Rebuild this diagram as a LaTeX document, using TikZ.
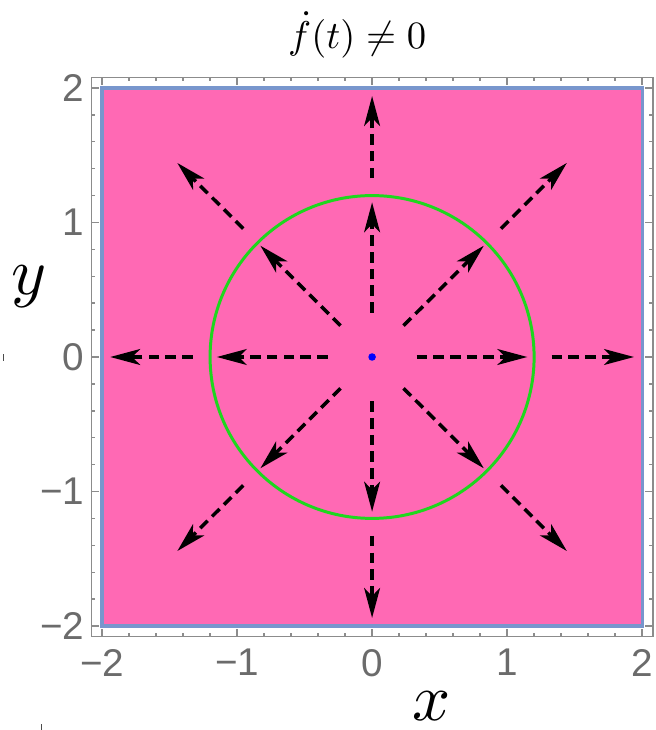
\documentclass[tikz,border=0pt]{standalone}
\usepackage{fontspec}
\newfontfamily\ticksfont{Liberation Sans}
\usepackage{tikz}
\usetikzlibrary{arrows.meta}

\definecolor{regionpink}{RGB}{255,105,180}
\definecolor{edgeblue}{RGB}{120,150,205}
\definecolor{circgreen}{RGB}{30,215,30}
\definecolor{tickgray}{RGB}{107,107,107}
\definecolor{framegray}{RGB}{140,140,140}

\begin{document}
\begin{tikzpicture}[
  x=2.7cm, y=2.69cm,
  ticklab/.style={font=\ticksfont\fontsize{22}{26}\selectfont, text=tickgray, inner sep=0pt},
  framestyle/.style={draw=framegray, line width=0.8pt},
  flowarrow/.style={-{Stealth[length=17pt, width=9pt, inset=4.5pt]}, line width=2pt,
                    dash pattern=on 6pt off 3.5pt},
]
\useasboundingbox (-2.756,-2.773) rectangle (2.096,2.654);

% Region
\fill[regionpink] (-2,-2) rectangle (2,2);
\draw[edgeblue, line width=1.8pt] (-2,-2) rectangle (2,2);

% Frame with ticks
\draw[framestyle] (-2.08,-2.08) rectangle (2.08,2.08);
\foreach \i in {-10,...,10} {
  \pgfmathsetmacro{\tpos}{\i/5}
  \pgfmathsetmacro{\ticklen}{ifthenelse(mod(\i,5)==0,0.055,0.03)}
  \draw[framestyle] (\tpos,-2.08) -- ++(0,\ticklen);
  \draw[framestyle] (\tpos,2.08) -- ++(0,-\ticklen);
  \draw[framestyle] (-2.08,\tpos) -- ++(\ticklen,0);
  \draw[framestyle] (2.08,\tpos) -- ++(-\ticklen,0);
}

% Tick labels
\foreach \v/\lab in {-2/−2, -1/−1, 0/0, 1/1, 2/2} {
  \node[ticklab, anchor=north] (xt\v) at (\v,-2.17) {\lab};
  \node[ticklab, anchor=east] (yt\v) at (-2.13,\v) {\lab};
}

% Circle and centre
\draw[circgreen, line width=1.7pt] (0,0) circle [radius=1.2];
\fill[blue] (0,0) circle [radius=0.028];

% Field arrows
\foreach \a in {0,90,180,270} {
  \draw[flowarrow] (\a:0.33) -- (\a:1.15);
  \draw[flowarrow] (\a:1.33) -- (\a:1.94);
}
\foreach \a in {45,135,225,315} {
  \draw[flowarrow] (\a:0.33) -- (\a:1.17);
  \draw[flowarrow] (\a:1.35) -- (\a:2.04);
}

% Title and axis labels
\node[scale=2.2] (title) at (-0.11,2.394) {$\dot{f}(t)\neq 0$};
\node[scale=3.8, inner sep=0pt] (xlab) at (0.444,-2.595) {$x$};
\node[scale=3.8, inner sep=0pt] (ylab) at (-2.54,0.52) {$y$};

% Stray marks
\draw[black!70, line width=0.6pt] (-2.731,0.022) -- (-2.731,-0.03);
\draw[black!70, line width=0.6pt] (-2.452,-2.73) -- (-2.452,-2.773);

\end{tikzpicture}
\end{document}
